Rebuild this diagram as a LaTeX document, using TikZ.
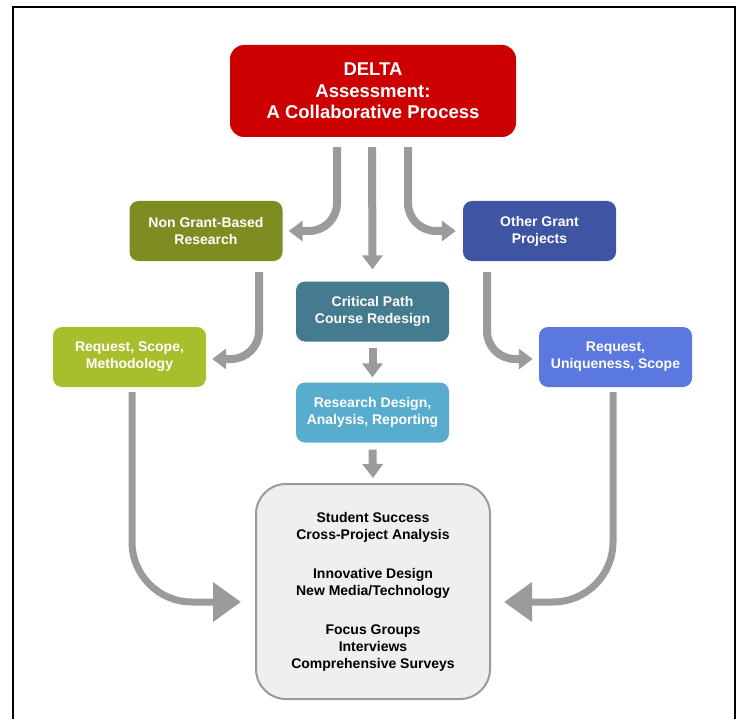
\documentclass[tikz,border=0pt]{standalone}
\usepackage{fontspec}
\setmainfont{Liberation Sans}
\usetikzlibrary{arrows.meta}
\definecolor{cred}{HTML}{CC0000}
\definecolor{colive}{HTML}{7F8C22}
\definecolor{cdblue}{HTML}{3F55A3}
\definecolor{cteal}{HTML}{457B8E}
\definecolor{clime}{HTML}{A9BE2D}
\definecolor{clblue}{HTML}{5A78E0}
\definecolor{csky}{HTML}{58ACCD}
\definecolor{arrgray}{HTML}{9B9B9B}
\definecolor{boxgray}{HTML}{EFEFEF}
\definecolor{bordgray}{HTML}{9A9A9A}
\begin{document}
\begin{tikzpicture}[x=1pt,y=-1pt,
  box/.style={rounded corners=9pt, minimum width=153pt, minimum height=60pt, text=white,
    font=\bfseries\fontsize{14}{17}\selectfont, align=center, inner sep=0pt},
  arr/.style={draw=arrgray, line width=8pt, -{Triangle[width=20pt,length=14pt]}, rounded corners=28pt},
  bigarr/.style={draw=arrgray, line width=7pt, -{Triangle[width=38pt,length=28pt]}, rounded corners=60pt}]
\useasboundingbox (0,0) rectangle (738,719);
\draw[line width=2pt] (13,7) rectangle (735,740);

\node[box, fill=cred, minimum width=286pt, minimum height=92pt, rounded corners=14pt,
  font=\bfseries\fontsize{18.5}{21.5}\selectfont] (top) at (373,91) {DELTA\\Assessment:\\A Collaborative Process};
\node[box, fill=colive] (ng) at (206,231) {Non Grant-Based\\Research};
\node[box, fill=cdblue] (og) at (539.5,231) {Other Grant\\Projects};
\node[box, fill=cteal] (crit) at (372.5,311.5) {Critical Path\\Course Redesign};
\node[box, fill=clime] (rl) at (129.5,357) {Request, Scope,\\Methodology};
\node[box, fill=clblue] (rr) at (615.5,357) {Request,\\Uniqueness, Scope};
\node[box, fill=csky] (res) at (372.5,412.5) {Research Design,\\Analysis, Reporting};
\node[box, fill=boxgray, draw=bordgray, line width=2pt, rounded corners=30pt,
  minimum width=234pt, minimum height=215pt, text=black] (bot) at (373,591.5)
  {Student Success\\Cross-Project Analysis\\[22pt]Innovative Design\\New Media/Technology\\[22pt]Focus Groups\\Interviews\\Comprehensive Surveys};

\draw[arr] ([xshift=-36pt,yshift=-10pt]top.south) |- ([xshift=6pt]ng.east);
\draw[arr] ([xshift=-1pt,yshift=-10pt]top.south) -- ([yshift=12pt]crit.north);
\draw[arr] ([xshift=35pt,yshift=-10pt]top.south) |- ([xshift=-7pt]og.west);
\draw[arr] ([xshift=53pt,yshift=-11pt]ng.south) |- ([xshift=6pt,yshift=-2pt]rl.east);
\draw[arr] ([xshift=-52.5pt,yshift=-11pt]og.south) |- ([xshift=-6pt,yshift=-2pt]rr.west);
\draw[arr] ([yshift=-6pt]crit.south) -- ([yshift=5pt]res.north);
\draw[arr] ([yshift=-7pt]res.south) -- ([yshift=5pt]bot.north);
\draw[bigarr] ([xshift=2.5pt,yshift=-5pt]rl.south) |- ([xshift=-14pt,yshift=-10.5pt]bot.west);
\draw[bigarr] ([xshift=-2.5pt,yshift=-5pt]rr.south) |- ([xshift=13pt,yshift=-10.5pt]bot.east);
\end{tikzpicture}
\end{document}
